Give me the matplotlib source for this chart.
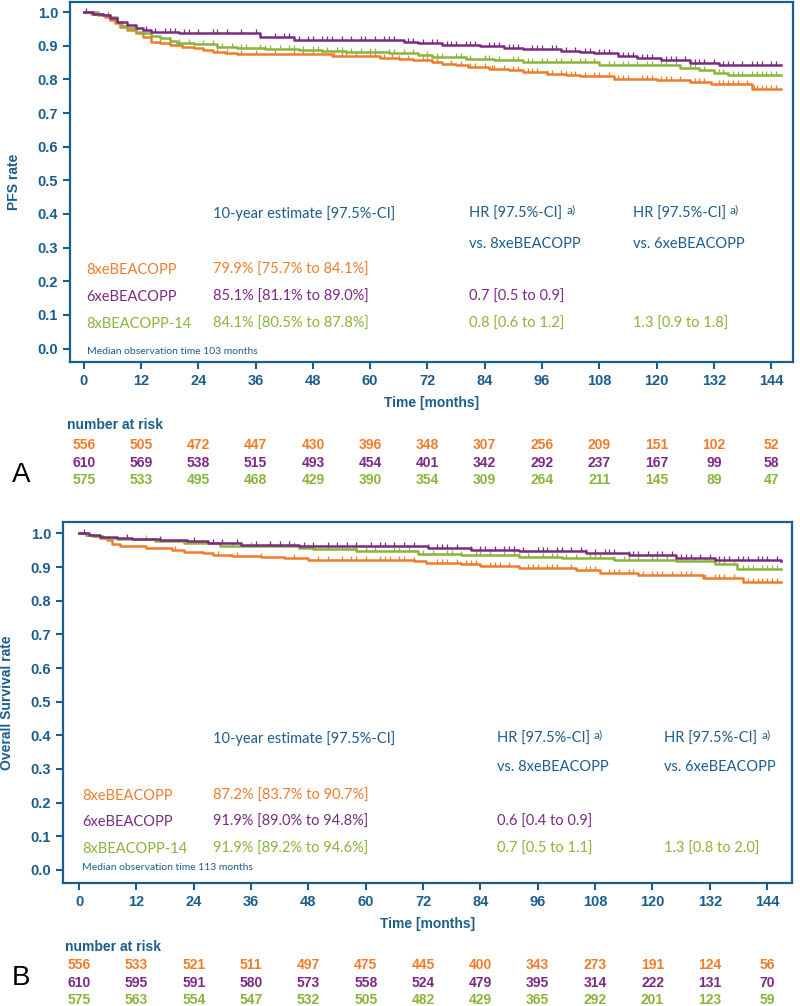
import numpy as np
import matplotlib
matplotlib.use("Agg")
import matplotlib.transforms as mtrans
from matplotlib import pyplot as plt

# colours
BLUE = "#1b5d8c"
ORANGE = "#f07c2a"
PURPLE = "#7b2a84"
GREEN = "#8ab43c"

months = [0, 12, 24, 36, 48, 60, 72, 84, 96, 108, 120, 132, 144]
arms = ["8xeBEACOPP", "6xeBEACOPP", "8xBEACOPP-14"]

# ---------------- panel A: PFS ----------------
pfs_orange_t = [0, 1.5, 3, 4.5, 5.5, 6.5, 7.5, 9, 11, 12.5, 14, 16, 18, 20.5, 23, 25, 27, 29.5, 32,
                52, 62, 66, 69, 73, 75, 78, 80.5, 85, 89, 92, 97, 101, 104, 111, 120, 127, 131.5, 140, 146]
pfs_orange_s = [1.0, 0.995, 0.99, 0.985, 0.977, 0.967, 0.957, 0.947, 0.937, 0.925, 0.912, 0.907, 0.902, 0.897,
                0.892, 0.887, 0.882, 0.878, 0.874, 0.869, 0.865, 0.862, 0.859, 0.852, 0.847, 0.842, 0.837, 0.832,
                0.827, 0.822, 0.817, 0.813, 0.809, 0.802, 0.797, 0.792, 0.785, 0.772, 0.772]
pfs_orange_c = [16, 20, 28, 30, 33, 36, 40, 44, 46, 48, 50, 52.5, 54, 55, 57, 60, 61, 63, 64.5, 66, 68, 71,
                72, 74, 77, 79, 81, 82, 84, 85.5, 86, 88, 90, 91, 93, 94, 95, 97, 98, 100, 101, 102, 103,
                105, 107, 108, 110, 112, 113, 114, 117, 118, 119, 121, 122, 123, 125, 128, 129, 130, 133,
                134, 135, 136, 137, 139, 140.5, 141, 142, 143, 144, 145]

pfs_purple_t = [0, 2, 4, 5.5, 7, 9, 11, 12.5, 14, 20, 37, 44, 67, 70, 75, 83, 88, 92, 100, 104, 107, 112,
                116, 121, 127, 133, 146]
pfs_purple_s = [1.0, 0.995, 0.99, 0.982, 0.972, 0.962, 0.952, 0.947, 0.942, 0.937, 0.927, 0.917, 0.912,
                0.907, 0.903, 0.899, 0.893, 0.889, 0.884, 0.88, 0.877, 0.869, 0.864, 0.857, 0.85, 0.842, 0.842]
pfs_purple_c = [0.5, 13, 15, 17, 18, 19, 21, 22, 24, 27, 28, 30, 33, 36, 40, 42, 43, 45, 47, 48, 50, 51,
                52, 54, 56, 58, 59, 61, 63, 64, 65, 68, 69, 71, 73, 74, 76, 77, 78, 80, 81, 82, 85, 86, 87,
                89, 90, 91, 94, 95, 96, 98, 99, 101, 103, 105, 106, 108, 109, 110, 113, 114, 115, 117, 118,
                119, 122, 123, 124, 126, 128, 129, 130, 132, 134, 135, 136, 138, 140, 141, 142, 144, 145]

pfs_green_t = [0, 3, 4, 5.5, 7, 8, 9, 11, 12.5, 14, 16, 18, 19.5, 23, 28, 32, 38, 45, 50, 55, 64, 70, 73,
               80, 86, 92, 108, 125, 129, 132, 135, 146]
pfs_green_s = [1.0, 0.995, 0.99, 0.985, 0.97, 0.96, 0.952, 0.942, 0.937, 0.93, 0.922, 0.915, 0.909, 0.905,
               0.897, 0.892, 0.889, 0.887, 0.884, 0.882, 0.877, 0.872, 0.867, 0.862, 0.857, 0.852, 0.844,
               0.835, 0.827, 0.82, 0.812, 0.812]
pfs_green_c = [5, 14, 18, 20, 22, 25, 27, 29, 31, 33, 34, 37, 38, 39, 41, 43, 44, 46, 48, 49, 51, 53, 54,
               56, 58, 60, 61, 64, 65, 67, 69, 72, 74, 75, 78, 79, 81, 84, 85, 87, 90, 91, 93, 94, 96, 97,
               99, 100, 102, 104, 105, 107, 110, 111, 113, 114, 116, 118, 119, 121, 122, 124, 127, 128,
               130, 133, 134, 136, 137, 138, 140, 141, 142, 143, 144, 145]

pfs_risk_orange = [556, 505, 472, 447, 430, 396, 348, 307, 256, 209, 151, 102, 52]
pfs_risk_purple = [610, 569, 538, 515, 493, 454, 401, 342, 292, 237, 167, 99, 58]
pfs_risk_green = [575, 533, 495, 468, 429, 390, 354, 309, 264, 211, 145, 89, 47]

pfs_est = ["79.9% [75.7% to 84.1%]", "85.1% [81.1% to 89.0%]", "84.1% [80.5% to 87.8%]"]
pfs_hr1 = ["", "0.7 [0.5 to 0.9]", "0.8 [0.6 to 1.2]"]
pfs_hr2 = ["", "", "1.3 [0.9 to 1.8]"]

# ---------------- panel B: OS ----------------
os_orange_t = [0, 1.5, 3, 4.4, 5.8, 7, 8.6, 14, 19.5, 22, 26, 28, 32, 38, 43, 48, 70, 72.7, 80, 84, 92,
               104, 109, 117, 130.5, 139, 147]
os_orange_s = [1.0, 0.996, 0.992, 0.987, 0.98, 0.97, 0.962, 0.956, 0.95, 0.946, 0.942, 0.937, 0.933, 0.93,
               0.926, 0.921, 0.918, 0.913, 0.908, 0.903, 0.898, 0.891, 0.883, 0.875, 0.868, 0.855, 0.855]
os_orange_c = [20, 29, 33, 38, 45, 50, 52, 55, 57, 58, 60, 63, 64, 65, 67, 68, 70, 75, 76, 77, 79, 81, 82,
               83, 86, 87, 88, 90, 94, 95, 96, 98, 99, 100, 103, 106, 107, 108, 111, 112, 113, 115, 116,
               118, 120, 121, 122, 124, 126, 127, 128, 131, 133, 134, 135, 137, 140, 141, 142, 143, 144,
               145, 146]

os_purple_t = [0, 2, 4.4, 8, 11, 17, 22.5, 27, 34, 46, 73, 82, 86, 92, 106, 115, 125, 133, 147]
os_purple_s = [1.0, 0.995, 0.99, 0.986, 0.984, 0.98, 0.977, 0.972, 0.966, 0.963, 0.957, 0.952, 0.95,
               0.947, 0.943, 0.937, 0.928, 0.921, 0.918]
os_purple_c = [1, 10, 17, 24, 28, 30, 33, 37, 40, 42, 44, 47, 49, 52, 54, 56, 58, 61, 63, 64, 66, 68, 70,
               73, 75, 76, 77, 79, 82, 84, 85, 87, 89, 90, 91, 93, 96, 97, 98, 100, 101, 103, 105, 106,
               108, 110, 111, 112, 115, 116, 117, 119, 121, 122, 124, 126, 127, 128, 130, 132, 134, 135,
               136, 138, 139, 140, 142, 143, 144, 146]

os_green_t = [0, 1.5, 3, 5, 8, 16, 22, 29.5, 34, 46, 49, 58, 71, 80, 92, 101, 112, 125, 133, 137.6, 147]
os_green_s = [1.0, 0.996, 0.992, 0.987, 0.982, 0.977, 0.972, 0.964, 0.962, 0.957, 0.953, 0.947, 0.94,
              0.935, 0.93, 0.926, 0.922, 0.918, 0.908, 0.895, 0.895]
os_green_c = [14, 22, 32, 36, 40, 45, 48, 52, 55, 58, 60, 62, 66, 67, 69, 72, 74, 77, 78, 80, 83, 84, 86,
              89, 91, 92, 94, 97, 99, 100, 102, 104, 107, 108, 109, 112, 114, 115, 117, 120, 121, 123,
              126, 127, 129, 131, 134, 135, 137, 139, 140, 141, 143, 144, 145, 146]

os_risk_orange = [556, 533, 521, 511, 497, 475, 445, 400, 343, 273, 191, 124, 56]
os_risk_purple = [610, 595, 591, 580, 573, 558, 524, 479, 395, 314, 222, 131, 70]
os_risk_green = [575, 563, 554, 547, 532, 505, 482, 429, 365, 292, 201, 123, 59]

os_est = ["87.2% [83.7% to 90.7%]", "91.9% [89.0% to 94.8%]", "91.9% [89.2% to 94.6%]"]
os_hr1 = ["", "0.6 [0.4 to 0.9]", "0.7 [0.5 to 1.1]"]
os_hr2 = ["", "", "1.3 [0.8 to 2.0]"]

TABLE_FONT = ["Lato", "DejaVu Sans"]
NARROW = ["Liberation Sans Narrow", "Liberation Sans", "DejaVu Sans"]
BOLD = ["Liberation Sans", "DejaVu Sans"]


def km(ax, t, s, cens, color):
    t = np.asarray(t, float)
    s = np.asarray(s, float)
    ax.step(t, s, where="post", color=color, lw=1.8, zorder=3)
    c = np.asarray(cens, float)
    idx = np.searchsorted(t, c, side="right") - 1
    ax.plot(c, s[idx], ls="none", marker=[(0, 0), (0, 1)], markersize=5.5,
            markeredgecolor=color, markeredgewidth=0.9, zorder=3)


def style(ax, ylabel, xlim, ylim):
    ax.set_xlim(*xlim)
    ax.set_ylim(*ylim)
    ax.set_xticks(months)
    ax.set_yticks(np.round(np.arange(0, 1.01, 0.1), 1))
    ax.yaxis.set_major_formatter(matplotlib.ticker.FormatStrFormatter("%.1f"))
    for sp in ax.spines.values():
        sp.set_color(BLUE)
        sp.set_linewidth(1.6)
    ax.tick_params(colors=BLUE, width=1.5, length=5, labelsize=10.5)
    for lab in ax.get_xticklabels() + ax.get_yticklabels():
        lab.set_fontweight("bold")
        lab.set_family(BOLD)
    ax.set_ylabel(ylabel, color=BLUE, fontweight="bold", fontsize=10, family=BOLD, labelpad=12)
    ax.set_xlabel("Time [months]", color=BLUE, fontweight="bold", fontsize=10, family=BOLD, labelpad=6)


def table(ax, x0, x1, x2, x3, ys, est, hr1, hr2, median):
    kw = dict(fontsize=10.5, family=TABLE_FONT, va="center", ha="left")
    y_head, y_vs, y_rows, y_med = ys
    ax.text(x1, y_head, "10-year estimate [97.5%-CI]", color=BLUE, **kw)
    for x in (x2, x3):
        t = ax.text(x, y_head, "HR [97.5%-CI]", color=BLUE, **kw)
        ax.annotate("a)", xy=(1, 0.5), xycoords=t, xytext=(3, 3), textcoords="offset points",
                    fontsize=8.5, family=TABLE_FONT, color=BLUE, va="center", ha="left")
    ax.text(x2, y_vs, "vs. 8xeBEACOPP", color=BLUE, **kw)
    ax.text(x3, y_vs, "vs. 6xeBEACOPP", color=BLUE, **kw)
    for i, col in enumerate([ORANGE, PURPLE, GREEN]):
        ax.text(x0, y_rows[i], arms[i], color=col, **kw)
        ax.text(x1, y_rows[i], est[i], color=col, **kw)
        ax.text(x2, y_rows[i], hr1[i], color=col, **kw)
        ax.text(x3, y_rows[i], hr2[i], color=col, **kw)
    ax.text(x0, y_med, median, color=BLUE, fontsize=7.5, family=TABLE_FONT, va="center", ha="left")


def risk(fig, ax, y_head, y_rows, rows, x_head):
    tr = mtrans.blended_transform_factory(ax.transData, fig.transFigure)
    fig.text(x_head, y_head, "number at risk", color=BLUE, fontsize=10, fontweight="bold",
             family=NARROW, va="center", ha="left")
    for vals, col, y in zip(rows, [ORANGE, PURPLE, GREEN], y_rows):
        for m, v in zip(months, vals):
            ax.text(m, y, str(v), transform=tr, color=col, fontsize=10, fontweight="bold",
                    family=NARROW, ha="center", va="center", clip_on=False)


H = 1006
fig = plt.figure(figsize=(8, 10.06), dpi=100)

# panel A
axA = fig.add_axes([70 / 800, 1 - 362 / H, 723 / 800, 360 / H])
km(axA, pfs_orange_t, pfs_orange_s, pfs_orange_c, ORANGE)
km(axA, pfs_green_t, pfs_green_s, pfs_green_c, GREEN)
km(axA, pfs_purple_t, pfs_purple_s, pfs_purple_c, PURPLE)
style(axA, "PFS rate", (-2.9, 148.6), (-0.04, 1.03))
table(axA, 0.6, 27, 80.7, 115, (0.40, 0.311, [0.234, 0.154, 0.074], -0.009),
      pfs_est, pfs_hr1, pfs_hr2, "Median observation time 103 months")
risk(fig, axA, 1 - 425 / H, [1 - 445 / H, 1 - 463 / H, 1 - 480 / H],
     [pfs_risk_orange, pfs_risk_purple, pfs_risk_green], 67 / 800)
fig.text(12 / 800, 1 - 475 / H, "A", fontsize=20, family=NARROW, color="black", va="center", ha="left")

# panel B
axB = fig.add_axes([63 / 800, 1 - 883 / H, 729 / 800, 361 / H])
km(axB, os_orange_t, os_orange_s, os_orange_c, ORANGE)
km(axB, os_green_t, os_green_s, os_green_c, GREEN)
km(axB, os_purple_t, os_purple_s, os_purple_c, PURPLE)
style(axB, "Overall Survival rate", (-3.35, 149.2), (-0.039, 1.034))
table(axB, 0.6, 28, 87.4, 122.4, (0.39, 0.307, [0.22, 0.143, 0.062], 0.008),
      os_est, os_hr1, os_hr2, "Median observation time 113 months")
risk(fig, axB, 1 - 947 / H, [1 - 965 / H, 1 - 983 / H, 1 - 1000 / H],
     [os_risk_orange, os_risk_purple, os_risk_green], 65 / 800)
fig.text(12 / 800, 1 - 978 / H, "B", fontsize=20, family=NARROW, color="black", va="center", ha="left")

fig.savefig("out.png", dpi=100)
plt.close(fig)
